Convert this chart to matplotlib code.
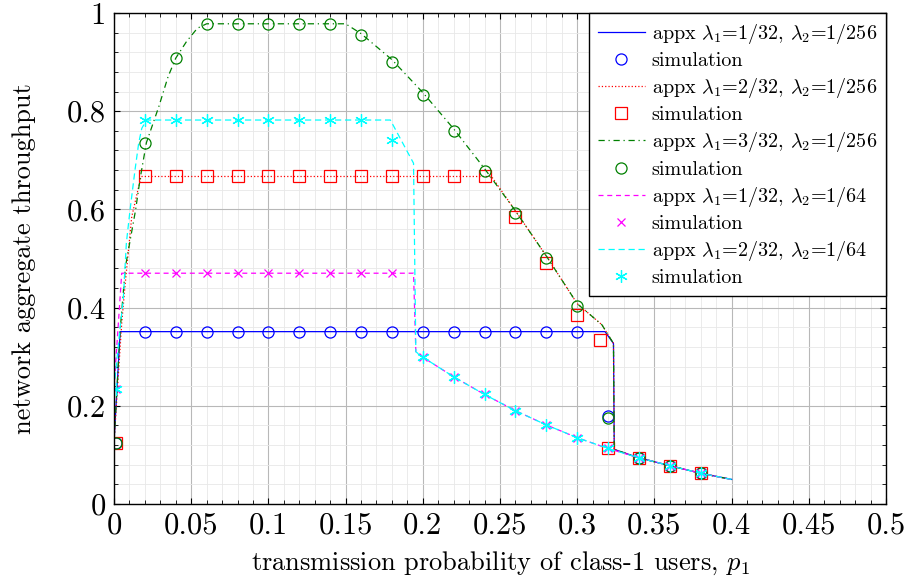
import matplotlib
matplotlib.use("Agg")
import matplotlib.pyplot as plt
from matplotlib.ticker import MultipleLocator

plt.rcParams['font.family'] = 'serif'
plt.rcParams['font.serif'] = ['cmr10', 'DejaVu Serif']
plt.rcParams['mathtext.fontset'] = 'cm'
plt.rcParams['axes.formatter.use_mathtext'] = True

# common tail of all curves (after the drop)
tail_x = [0.22, 0.24, 0.26, 0.28, 0.30, 0.32, 0.34, 0.36, 0.38, 0.40]
tail_y = [0.259, 0.223, 0.190, 0.161, 0.135, 0.113, 0.094, 0.078, 0.0625, 0.050]

# approximation curves
blue_x = [0.0, 0.004, 0.318, 0.3235, 0.324, 0.34, 0.36, 0.38, 0.40]
blue_y = [0.125, 0.351, 0.351, 0.327, 0.111, 0.094, 0.078, 0.0625, 0.050]

red_x = [0.0, 0.005, 0.0071, 0.0115, 0.0175, 0.2445, 0.26, 0.28, 0.30, 0.316, 0.3235, 0.324,
         0.34, 0.36, 0.38, 0.40]
red_y = [0.125, 0.368, 0.443, 0.585, 0.667, 0.667, 0.597, 0.505, 0.408, 0.365, 0.327, 0.111,
         0.094, 0.078, 0.0625, 0.050]

green_x = [0.0, 0.004, 0.0074, 0.014, 0.017, 0.021, 0.029, 0.035, 0.04, 0.047, 0.054, 0.06,
           0.15, 0.16, 0.18, 0.20, 0.22, 0.24, 0.26, 0.28, 0.30, 0.316, 0.3235, 0.324,
           0.34, 0.36, 0.38, 0.40]
green_y = [0.125, 0.354, 0.483, 0.599, 0.664, 0.736, 0.809, 0.870, 0.908, 0.942, 0.969, 0.978,
           0.978, 0.958, 0.905, 0.838, 0.764, 0.683, 0.597, 0.505, 0.408, 0.365, 0.327, 0.111,
           0.094, 0.078, 0.0625, 0.050]

mag_x = [0.0, 0.005, 0.194, 0.1955, 0.20] + tail_x
mag_y = [0.235, 0.470, 0.470, 0.310, 0.299] + tail_y

cyan_x = [0.0, 0.004, 0.006, 0.008, 0.0104, 0.0136, 0.016, 0.018, 0.021, 0.179, 0.194, 0.1955,
          0.20] + tail_x
cyan_y = [0.235, 0.361, 0.415, 0.531, 0.599, 0.680, 0.735, 0.765, 0.782, 0.782, 0.694, 0.310,
          0.299] + tail_y

# simulation points
p_sim = [0.001, 0.02, 0.04, 0.06, 0.08, 0.10, 0.12, 0.14, 0.16, 0.18, 0.20, 0.22, 0.24,
         0.26, 0.28, 0.30, 0.32, 0.34, 0.36, 0.38]
blue_sim = [0.125] + [0.351] * 15 + [0.179, 0.094, 0.078, 0.0625]
red_p = p_sim[:16] + [0.315] + p_sim[16:]
red_sim = [0.125] + [0.667] * 12 + [0.584, 0.491, 0.384, 0.333, 0.113, 0.094, 0.078, 0.0625]
green_sim = [0.125, 0.736, 0.908, 0.978, 0.978, 0.978, 0.978, 0.978, 0.955, 0.900, 0.833,
             0.760, 0.679, 0.593, 0.502, 0.403, 0.175, 0.094, 0.078, 0.0625]
mag_sim = [0.235] + [0.470] * 9 + [0.299, 0.259, 0.223, 0.190, 0.161, 0.135, 0.113,
                                   0.094, 0.078, 0.0625]
cyan_sim = [0.235] + [0.782] * 8 + [0.741, 0.299, 0.259, 0.223, 0.190, 0.161, 0.135, 0.113,
                                    0.094, 0.078, 0.0625]

green = '#008000'
asterisk = (6, 2, 0)

fig = plt.figure(figsize=(9.09, 5.85), dpi=100)
ax = fig.add_axes([0.1254, 0.1385, 0.8493, 0.8393])

ax.plot(blue_x, blue_y, '-', color='blue', lw=0.9, label=r'appx $\lambda_1$=1/32, $\lambda_2$=1/256')
ax.plot(p_sim, blue_sim, 'o', mfc='none', mec='blue', ms=8, mew=0.9, ls='none', label='simulation')
ax.plot(red_x, red_y, ':', color='red', lw=0.9, label=r'appx $\lambda_1$=2/32, $\lambda_2$=1/256')
ax.plot(red_p, red_sim, 's', mfc='none', mec='red', ms=8, mew=0.9, ls='none', label='simulation')
ax.plot(green_x, green_y, color=green, lw=0.9, dashes=(5, 3, 1, 3),
        label=r'appx $\lambda_1$=3/32, $\lambda_2$=1/256')
ax.plot(p_sim, green_sim, 'o', mfc='none', mec=green, ms=8, mew=0.9, ls='none', label='simulation')
ax.plot(mag_x, mag_y, color='magenta', lw=0.9, dashes=(4, 3),
        label=r'appx $\lambda_1$=1/32, $\lambda_2$=1/64')
ax.plot(p_sim, mag_sim, 'x', color='magenta', ms=6, mew=0.9, ls='none', label='simulation')
ax.plot(cyan_x, cyan_y, color='cyan', lw=0.9, dashes=(5, 3),
        label=r'appx $\lambda_1$=2/32, $\lambda_2$=1/64')
ax.plot(p_sim, cyan_sim, marker=asterisk, color='cyan', ms=9, mew=0.9, ls='none', label='simulation')

ax.set_xlim(0, 0.5)
ax.set_ylim(0, 1)
ax.xaxis.set_major_locator(MultipleLocator(0.05))
ax.xaxis.set_minor_locator(MultipleLocator(0.01))
ax.yaxis.set_major_locator(MultipleLocator(0.2))
ax.yaxis.set_minor_locator(MultipleLocator(0.04))
ax.xaxis.set_major_formatter(plt.FuncFormatter(lambda v, p: ('%g' % round(v, 3))))
ax.yaxis.set_major_formatter(plt.FuncFormatter(lambda v, p: ('%g' % round(v, 3))))
ax.tick_params(which='both', direction='in', top=True, right=True, labelsize=22, pad=6)
ax.tick_params(which='major', length=4)
ax.tick_params(which='minor', length=3)
ax.grid(which='major', color='#b8b8b8', lw=0.8)
ax.grid(which='minor', color='#e8e8e8', lw=0.6)
ax.set_axisbelow(True)
for s in ax.spines.values():
    s.set_linewidth(1.0)

ax.set_xlabel(r'transmission probability of class-1 users, $p_1$', fontsize=19, labelpad=7)
ax.set_ylabel('network aggregate throughput', fontsize=19, labelpad=22)

leg = ax.legend(loc='upper right', borderaxespad=0, fontsize=14.5, handlelength=2.3,
                labelspacing=0.3, fancybox=False, edgecolor='black', framealpha=1,
                borderpad=0.45, handletextpad=0.35)
leg.get_frame().set_linewidth(1.0)

fig.savefig('out.png', dpi=100)
